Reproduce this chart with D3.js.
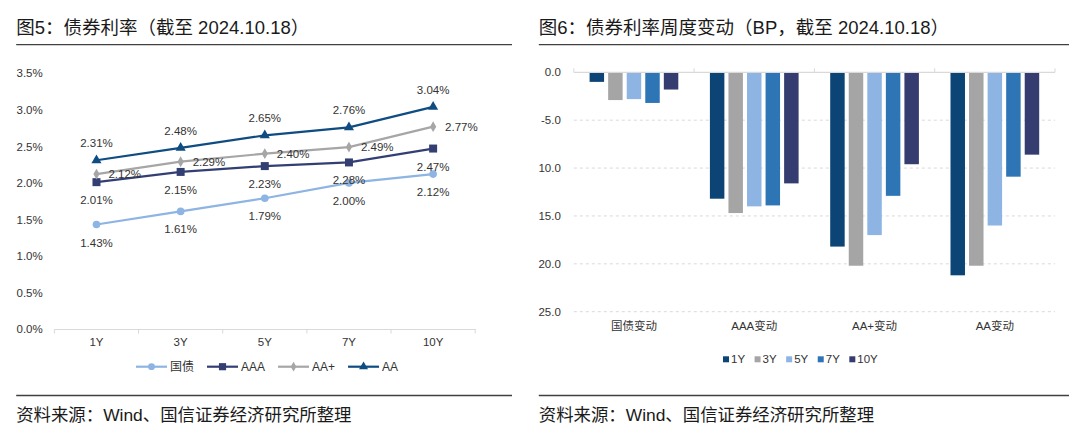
<!DOCTYPE html>
<html><head><meta charset="utf-8">
<script src="https://cdn.jsdelivr.net/npm/d3@7"></script>
<style>
body{margin:0;background:#fff}
svg{display:block}
text{font-family:"Liberation Sans",Arial,"Noto Sans CJK SC",sans-serif}
</style>
</head><body><svg id="c" width="1080" height="443"></svg>
<script>
// ---------- data ----------
const tenors = ["1Y","3Y","5Y","7Y","10Y"];
const govt   = [1.43,1.61,1.79,2.00,2.12];
const aaa    = [2.01,2.15,2.23,2.28,2.47];
const aaPlus = [2.12,2.29,2.40,2.49,2.77];
const aa     = [2.31,2.48,2.65,2.76,3.04];
const rateTicks = [0,0.5,1,1.5,2,2.5,3,3.5];

const changeCats = ["国债变动","AAA变动","AA+变动","AA变动"];
const chg1Y  = [-1.0,-13.2,-18.2,-21.2];
const chg3Y  = [-2.9,-14.7,-20.2,-20.2];
const chg5Y  = [-2.8,-14.0,-17.0,-16.0];
const chg7Y  = [-3.2,-13.9,-12.9,-10.9];
const chg10Y = [-1.8,-11.6,-9.6,-8.6];
const changeTicks = [0,-5,-10,-15,-20,-25];
const changeTickLabels = ["0.0","-5.0","10.0","15.0","20.0","25.0"];

const svg = d3.select("#c");
const TXT = "#333";
const AXIS = "#D9D9D9";

// ---------- headers / footers ----------
function frame(x0, x1, title) {
  svg.append("text").attr("x", x0).attr("y", 33.5).attr("font-size", 18.5)
    .attr("fill", "#1a1a1a").text(title);
  svg.append("line").attr("x1", x0).attr("x2", x1).attr("y1", 44.7).attr("y2", 44.7)
    .attr("stroke", "#404040").attr("stroke-width", 1.3);
  svg.append("line").attr("x1", x0).attr("x2", x1).attr("y1", 395.5).attr("y2", 395.5)
    .attr("stroke", "#404040").attr("stroke-width", 1.3);
  svg.append("text").attr("x", x0).attr("y", 421).attr("font-size", 17.4)
    .attr("fill", "#1a1a1a").text("资料来源：Wind、国信证券经济研究所整理");
}
frame(16.2, 512, "图5：债券利率（截至 2024.10.18）");
frame(538.8, 1069, "图6：债券利率周度变动（BP，截至 2024.10.18）");

// ---------- left: line chart ----------
const x = d3.scaleBand().domain(tenors).range([54.4, 475.2]);
const cx = t => x(t) + x.bandwidth() / 2;
const y = d3.scaleLinear().domain([0, 3.5]).range([329, 73.3]);

const yAx = svg.append("g").attr("transform", "translate(54.4,0)")
  .call(d3.axisLeft(y).tickValues(rateTicks).tickFormat(d => d.toFixed(1) + "%").tickSize(0).tickPadding(11.7));
yAx.select(".domain").remove();
yAx.selectAll("text").attr("font-size", 11.5).attr("fill", TXT).attr("font-family", null);

const xAx = svg.append("g").attr("transform", "translate(0,329)")
  .call(d3.axisBottom(x).tickSize(0).tickPadding(8.5));
xAx.select(".domain").attr("stroke", AXIS).attr("stroke-width", 1);
xAx.selectAll("text").attr("font-size", 11.5).attr("fill", TXT).attr("font-family", null);
svg.append("g").selectAll("line").data(tenors.map(t => x(t)).concat([x.range()[1]]))
  .join("line").attr("x1", d => d).attr("x2", d => d).attr("y1", 329).attr("y2", 333.5)
  .attr("stroke", AXIS);

const series = [
  {name: "国债", vals: govt,   color: "#8DB4E2", marker: "circle",   pos: "below"},
  {name: "AAA",  vals: aaa,    color: "#333F73", marker: "square",   pos: "below"},
  {name: "AA+",  vals: aaPlus, color: "#A6A6A6", marker: "diamond",  pos: "right"},
  {name: "AA",   vals: aa,     color: "#0F4C81", marker: "triangle", pos: "above"}
];
const symSize = {circle: 46, square: 64, diamond: 34, triangle: 44};
const symType = {circle: d3.symbolCircle, square: d3.symbolSquare, diamond: d3.symbolDiamond, triangle: d3.symbolTriangle};
const line = d3.line().x((d, i) => cx(tenors[i])).y(d => y(d));

series.forEach(s => {
  svg.append("path").attr("d", line(s.vals)).attr("fill", "none")
    .attr("stroke", s.color).attr("stroke-width", 2.2);
});
series.forEach(s => {
  svg.append("g").selectAll("path").data(s.vals).join("path")
    .attr("transform", (d, i) => `translate(${cx(tenors[i])},${y(d)})`)
    .attr("d", d3.symbol().type(symType[s.marker]).size(symSize[s.marker]))
    .attr("fill", s.color);
});
series.forEach(s => {
  svg.append("g").selectAll("text").data(s.vals).join("text")
    .attr("x", (d, i) => cx(tenors[i]) + (s.pos === "right" ? 12 : 0))
    .attr("y", d => y(d) + (s.pos === "above" ? -17 : s.pos === "below" ? 18 : 0))
    .attr("dy", "0.35em")
    .attr("text-anchor", s.pos === "right" ? "start" : "middle")
    .attr("font-size", 11.5).attr("fill", TXT)
    .text(d => d.toFixed(2) + "%");
});

// left legend
{
  let lx = 136;
  const ly = 366.7;
  series.forEach(s => {
    const g = svg.append("g");
    g.append("line").attr("x1", lx).attr("x2", lx + 31).attr("y1", ly).attr("y2", ly)
      .attr("stroke", s.color).attr("stroke-width", 2.2);
    g.append("path").attr("transform", `translate(${lx + 15.5},${ly})`)
      .attr("d", d3.symbol().type(symType[s.marker]).size(symSize[s.marker] * 0.8))
      .attr("fill", s.color);
    const t = g.append("text").attr("x", lx + 34).attr("y", ly).attr("dy", "0.35em")
      .attr("font-size", 12).attr("fill", TXT).text(s.name);
    lx += 34 + t.node().getComputedTextLength() + 13;
  });
}

// ---------- right: grouped bar chart ----------
const barSeries = [
  {name: "1Y",  vals: chg1Y,  color: "#0B4475"},
  {name: "3Y",  vals: chg3Y,  color: "#A5A5A5"},
  {name: "5Y",  vals: chg5Y,  color: "#8EB4E3"},
  {name: "7Y",  vals: chg7Y,  color: "#2E75B6"},
  {name: "10Y", vals: chg10Y, color: "#353C6F"}
];
const x0 = d3.scaleBand().domain(changeCats).range([573.8, 1055]);
const x1 = d3.scaleBand().domain(barSeries.map(s => s.name))
  .range([15.8, x0.bandwidth() - 15.8]).paddingInner(0.22);
const y2 = d3.scaleLinear().domain([-25, 0]).range([311.7, 72.3]);

// gridlines
svg.append("g").selectAll("line").data(changeTicks.filter(d => d !== 0)).join("line")
  .attr("x1", 573.8).attr("x2", 1055).attr("y1", d => y2(d)).attr("y2", d => y2(d))
  .attr("stroke", AXIS).attr("stroke-dasharray", "3,3");

const y2Ax = svg.append("g").attr("transform", "translate(573.8,0)")
  .call(d3.axisLeft(y2).tickValues(changeTicks).tickFormat((d, i) => changeTickLabels[i]).tickSize(0).tickPadding(13));
y2Ax.select(".domain").remove();
y2Ax.selectAll("text").attr("font-size", 11.5).attr("fill", TXT).attr("font-family", null);

barSeries.forEach(s => {
  svg.append("g").selectAll("rect").data(s.vals).join("rect")
    .attr("x", (d, i) => x0(changeCats[i]) + x1(s.name))
    .attr("y", y2(0))
    .attr("width", x1.bandwidth())
    .attr("height", d => y2(d) - y2(0))
    .attr("fill", s.color);
});

// zero line + ticks
svg.append("line").attr("x1", 573.8).attr("x2", 1055).attr("y1", y2(0)).attr("y2", y2(0))
  .attr("stroke", AXIS).attr("stroke-width", 1.2);
svg.append("g").selectAll("line").data(changeCats.map(c => x0(c)).concat([x0.range()[1]]))
  .join("line").attr("x1", d => d).attr("x2", d => d).attr("y1", y2(0)).attr("y2", y2(0) - 4)
  .attr("stroke", AXIS);

const catAx = svg.append("g").attr("transform", `translate(0,${y2(-25)})`)
  .call(d3.axisBottom(x0).tickSize(0).tickPadding(10.5));
catAx.select(".domain").remove();
catAx.selectAll("text").attr("font-size", 11.5).attr("fill", TXT).attr("font-family", null);

// right legend
{
  let lx = 723;
  const ly = 359.3;
  barSeries.forEach(s => {
    svg.append("rect").attr("x", lx).attr("y", ly - 3).attr("width", 6).attr("height", 6).attr("fill", s.color);
    const t = svg.append("text").attr("x", lx + 8).attr("y", ly).attr("dy", "0.35em")
      .attr("font-size", 11.5).attr("fill", TXT).text(s.name);
    lx += 8 + t.node().getComputedTextLength() + 9.5;
  });
}
</script>
</body></html>
